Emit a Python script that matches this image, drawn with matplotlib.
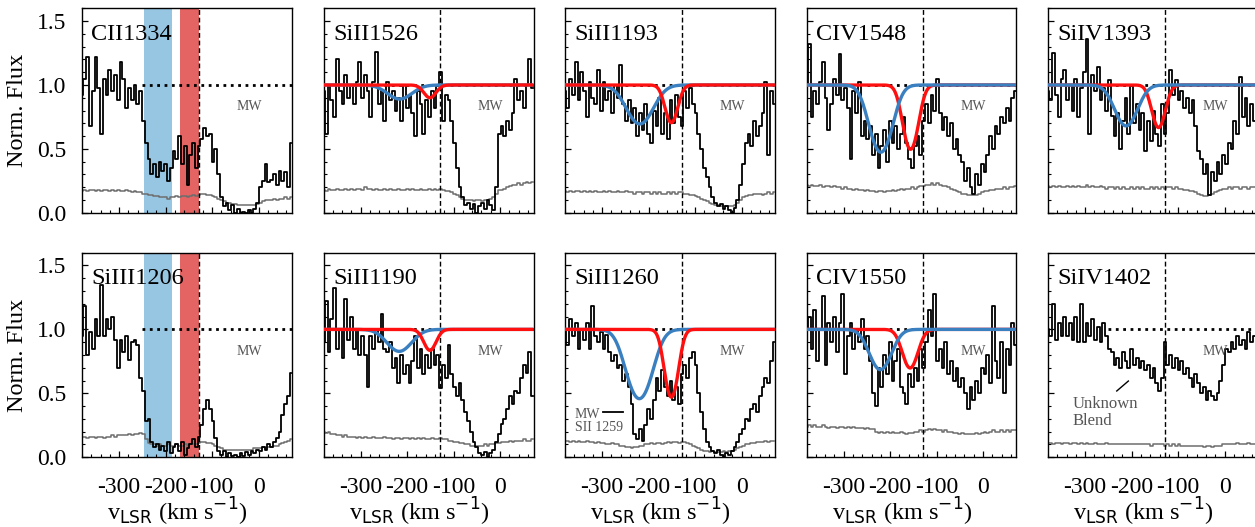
import numpy as np
import matplotlib
matplotlib.use("Agg")
import matplotlib.pyplot as plt
from matplotlib.ticker import MultipleLocator

plt.rcParams['font.family'] = ['Liberation Serif', 'DejaVu Serif']
plt.rcParams['mathtext.fontset'] = 'dejavusans'
plt.rcParams['axes.unicode_minus'] = False

# ---------------- data ----------------
velocity = np.arange(-380, 71, 6)   # km/s, bin centres (76 bins)

flux_CII1334 = [0.92, 1.05, 1.22, 0.68, 0.95, 1.22, 0.98, 0.62, 1.05, 0.92,
                1.12, 0.95, 1.08, 0.88, 1.18, 1.05, 0.82, 0.98, 0.88, 1.00,
                0.85, 0.95, 0.72, 0.55, 0.42, 0.30, 0.38, 0.28, 0.40, 0.33,
                0.38, 0.25, 0.35, 0.48, 0.42, 0.60, 0.38, 0.52, 0.22, 0.45,
                0.55, 0.35, 0.52, 0.58, 0.66, 0.60, 0.62, 0.40, 0.50, 0.30,
                0.12, 0.05, 0.08, 0.02, 0.06, 0.00, 0.03, 0.00, 0.01, 0.00,
                0.02, 0.00, 0.03, 0.08, 0.20, 0.25, 0.38, 0.24, 0.26, 0.30,
                0.22, 0.33, 0.25, 0.32, 0.20, 0.55]
err_CII1334 = [0.17, 0.18, 0.17, 0.18, 0.18, 0.17, 0.18, 0.17, 0.18, 0.18,
               0.17, 0.18, 0.17, 0.18, 0.17, 0.17, 0.18, 0.17, 0.16, 0.17,
               0.16, 0.16, 0.15, 0.15, 0.14, 0.14, 0.13, 0.13, 0.12, 0.12,
               0.12, 0.11, 0.12, 0.12, 0.13, 0.12, 0.13, 0.13, 0.12, 0.13,
               0.14, 0.13, 0.14, 0.15, 0.15, 0.14, 0.14, 0.13, 0.12, 0.11,
               0.10, 0.09, 0.08, 0.08, 0.07, 0.07, 0.06, 0.06, 0.06, 0.06,
               0.06, 0.06, 0.06, 0.07, 0.08, 0.09, 0.10, 0.10, 0.10, 0.11,
               0.10, 0.11, 0.11, 0.12, 0.11, 0.12]

flux_SiII1526 = [0.95, 0.62, 1.00, 0.88, 0.75, 1.20, 0.95, 0.85, 1.08, 0.90,
                 1.00, 0.85, 1.02, 1.18, 0.90, 1.08, 0.95, 0.75, 1.02, 1.26,
                 0.85, 0.95, 0.72, 1.02, 0.88, 0.95, 0.80, 0.90, 0.72, 1.00,
                 0.82, 0.92, 0.78, 0.60, 0.95, 0.85, 0.62, 0.88, 0.75, 0.95,
                 0.82, 1.00, 1.10, 0.72, 0.92, 0.88, 0.72, 0.55, 0.35, 0.20,
                 0.12, 0.06, 0.08, 0.03, 0.07, 0.00, 0.05, 0.08, 0.03, 0.10,
                 0.06, 0.02, 0.20, 0.62, 0.68, 0.60, 0.72, 0.65, 0.78, 1.05,
                 0.88, 0.95, 0.82, 1.00, 1.20, 0.98]
err_SiII1526 = [0.18, 0.17, 0.19, 0.18, 0.18, 0.19, 0.18, 0.18, 0.19, 0.18,
                0.19, 0.18, 0.19, 0.19, 0.18, 0.20, 0.19, 0.19, 0.18, 0.19,
                0.18, 0.18, 0.19, 0.18, 0.19, 0.18, 0.18, 0.19, 0.18, 0.18,
                0.19, 0.18, 0.19, 0.18, 0.18, 0.19, 0.18, 0.18, 0.19, 0.18,
                0.19, 0.18, 0.19, 0.18, 0.17, 0.17, 0.16, 0.15, 0.14, 0.12,
                0.11, 0.10, 0.10, 0.10, 0.09, 0.10, 0.10, 0.09, 0.10, 0.10,
                0.11, 0.12, 0.15, 0.18, 0.18, 0.19, 0.20, 0.21, 0.22, 0.22,
                0.23, 0.22, 0.23, 0.24, 0.23, 0.24]

flux_SiII1193 = [0.95, 0.82, 1.05, 0.92, 1.18, 0.88, 1.10, 0.95, 0.75, 1.02,
                 0.90, 0.85, 1.12, 0.80, 1.02, 0.88, 0.95, 0.78, 1.00, 0.90,
                 1.16, 0.85, 0.72, 0.88, 0.70, 0.82, 0.60, 0.78, 0.65, 0.85,
                 0.62, 0.55, 0.80, 0.68, 0.90, 0.62, 0.78, 0.58, 0.88, 0.70,
                 0.92, 0.75, 0.68, 0.95, 0.82, 0.98, 0.85, 0.78, 0.62, 0.50,
                 0.35, 0.28, 0.20, 0.12, 0.08, 0.05, 0.07, 0.03, 0.05, 0.02,
                 0.00, 0.04, 0.10, 0.22, 0.38, 0.55, 0.62, 0.52, 0.72, 0.60,
                 0.68, 0.78, 1.02, 0.45, 0.95, 0.85]
err_SiII1193 = [0.17, 0.16, 0.17, 0.16, 0.17, 0.17, 0.16, 0.17, 0.16, 0.17,
                0.16, 0.17, 0.16, 0.16, 0.17, 0.16, 0.17, 0.16, 0.16, 0.17,
                0.16, 0.16, 0.17, 0.16, 0.16, 0.15, 0.16, 0.16, 0.15, 0.16,
                0.16, 0.15, 0.16, 0.15, 0.16, 0.15, 0.15, 0.16, 0.15, 0.16,
                0.15, 0.16, 0.16, 0.15, 0.15, 0.14, 0.14, 0.13, 0.12, 0.11,
                0.10, 0.09, 0.08, 0.07, 0.06, 0.06, 0.05, 0.05, 0.05, 0.05,
                0.05, 0.06, 0.08, 0.10, 0.12, 0.13, 0.14, 0.14, 0.15, 0.15,
                0.15, 0.14, 0.15, 0.16, 0.15, 0.16]

flux_CIV1548 = [1.00, 1.32, 0.75, 0.95, 0.85, 1.02, 1.18, 0.90, 0.65, 0.85,
                1.05, 0.92, 1.24, 0.88, 0.98, 0.82, 0.42, 0.95, 0.78, 1.02,
                0.60, 0.72, 0.58, 0.68, 0.45, 0.62, 0.35, 0.52, 0.65, 0.40,
                0.72, 0.55, 0.68, 0.50, 0.62, 0.75, 0.55, 0.42, 0.35, 0.52,
                0.60, 0.45, 0.72, 0.85, 0.70, 0.92, 0.80, 1.05, 0.78, 0.65,
                0.75, 0.60, 0.70, 0.50, 0.58, 0.45, 0.40, 0.25, 0.35, 0.20,
                0.15, 0.30, 0.22, 0.38, 0.32, 0.45, 0.60, 0.50, 0.68, 0.62,
                0.75, 0.70, 0.82, 0.72, 0.90, 0.95]
err_CIV1548 = [0.22, 0.21, 0.22, 0.21, 0.21, 0.22, 0.20, 0.21, 0.21, 0.20,
               0.21, 0.20, 0.20, 0.19, 0.20, 0.19, 0.19, 0.18, 0.19, 0.18,
               0.18, 0.17, 0.18, 0.17, 0.17, 0.16, 0.17, 0.17, 0.16, 0.17,
               0.17, 0.18, 0.17, 0.18, 0.19, 0.18, 0.19, 0.19, 0.20, 0.19,
               0.20, 0.21, 0.21, 0.22, 0.22, 0.23, 0.22, 0.23, 0.22, 0.21,
               0.21, 0.20, 0.19, 0.18, 0.17, 0.16, 0.15, 0.15, 0.14, 0.14,
               0.14, 0.14, 0.15, 0.16, 0.17, 0.17, 0.18, 0.18, 0.19, 0.19,
               0.19, 0.20, 0.19, 0.20, 0.20, 0.21]

flux_SiIV1393 = [0.95, 0.88, 1.25, 0.92, 0.75, 1.05, 1.12, 0.88, 1.00, 0.80,
                 1.05, 0.75, 0.98, 1.10, 1.36, 0.62, 1.08, 0.95, 1.14, 0.88,
                 0.98, 0.80, 1.04, 0.76, 0.60, 0.78, 0.50, 0.72, 0.90, 0.62,
                 1.00, 0.70, 0.85, 0.65, 0.78, 0.48, 0.72, 0.56, 0.80, 0.62,
                 0.52, 0.85, 0.62, 0.78, 1.12, 0.92, 1.04, 0.88, 0.95, 0.82,
                 0.90, 0.78, 0.88, 0.68, 0.48, 0.42, 0.30, 0.38, 0.14, 0.32,
                 0.25, 0.40, 0.30, 0.45, 0.38, 0.55, 0.50, 0.72, 0.62, 1.06,
                 0.75, 0.90, 0.68, 0.85, 0.72, 0.88]
err_SiIV1393 = [0.21, 0.20, 0.21, 0.20, 0.21, 0.20, 0.20, 0.21, 0.20, 0.21,
                0.20, 0.21, 0.20, 0.20, 0.22, 0.20, 0.21, 0.20, 0.20, 0.21,
                0.20, 0.19, 0.20, 0.20, 0.19, 0.20, 0.19, 0.20, 0.19, 0.19,
                0.20, 0.19, 0.20, 0.19, 0.20, 0.19, 0.19, 0.20, 0.19, 0.20,
                0.19, 0.20, 0.19, 0.20, 0.20, 0.19, 0.20, 0.19, 0.19, 0.18,
                0.18, 0.17, 0.17, 0.16, 0.15, 0.14, 0.13, 0.13, 0.14, 0.15,
                0.16, 0.17, 0.18, 0.19, 0.19, 0.20, 0.19, 0.20, 0.20, 0.19,
                0.20, 0.20, 0.19, 0.20, 0.20, 0.20]

flux_SiIII1206 = [0.95, 1.18, 0.80, 0.98, 0.85, 1.08, 0.95, 1.35, 0.95, 1.08,
                  1.00, 1.10, 0.92, 0.70, 0.92, 0.82, 0.95, 0.76, 0.90, 0.92,
                  0.88, 0.62, 0.52, 0.28, 0.30, 0.12, 0.08, 0.10, 0.06, 0.09,
                  0.05, 0.12, 0.03, 0.08, 0.10, 0.05, 0.12, 0.02, 0.07, 0.10,
                  0.14, 0.08, 0.16, 0.25, 0.38, 0.45, 0.38, 0.28, 0.15, 0.05,
                  0.02, 0.05, 0.00, 0.03, 0.01, 0.02, 0.00, 0.03, 0.01, 0.04,
                  0.02, 0.05, 0.03, 0.06, 0.05, 0.08, 0.06, 0.10, 0.08, 0.12,
                  0.15, 0.20, 0.33, 0.42, 0.48, 0.66]
err_SiIII1206 = [0.16, 0.16, 0.15, 0.16, 0.16, 0.15, 0.16, 0.16, 0.15, 0.16,
                 0.16, 0.17, 0.16, 0.17, 0.17, 0.17, 0.17, 0.18, 0.17, 0.18,
                 0.18, 0.19, 0.18, 0.14, 0.11, 0.10, 0.10, 0.09, 0.10, 0.09,
                 0.09, 0.10, 0.09, 0.09, 0.10, 0.09, 0.09, 0.10, 0.09, 0.10,
                 0.10, 0.10, 0.11, 0.12, 0.12, 0.11, 0.11, 0.10, 0.09, 0.08,
                 0.07, 0.06, 0.06, 0.06, 0.06, 0.06, 0.06, 0.06, 0.06, 0.06,
                 0.06, 0.06, 0.07, 0.07, 0.07, 0.08, 0.07, 0.08, 0.08, 0.09,
                 0.09, 0.10, 0.11, 0.12, 0.13, 0.14]

flux_SiII1190 = [0.90, 1.22, 0.82, 1.08, 1.32, 0.85, 1.00, 0.78, 1.24, 0.92,
                 1.10, 0.85, 1.00, 0.80, 0.95, 0.80, 0.55, 0.95, 0.85, 1.00,
                 0.90, 1.12, 0.85, 0.82, 0.90, 0.70, 0.78, 0.58, 0.80, 0.65,
                 0.72, 0.58, 0.75, 0.95, 0.70, 0.85, 0.65, 0.80, 0.70, 0.85,
                 0.72, 0.80, 0.54, 0.72, 0.62, 0.88, 0.65, 0.55, 0.48, 0.58,
                 0.45, 0.35, 0.28, 0.20, 0.12, 0.08, 0.03, 0.02, 0.04, 0.00,
                 0.03, 0.06, 0.12, 0.18, 0.26, 0.30, 0.38, 0.48, 0.42, 0.52,
                 0.50, 0.62, 0.72, 0.66, 0.82, 0.48]
err_SiII1190 = [0.20, 0.19, 0.20, 0.18, 0.18, 0.17, 0.17, 0.16, 0.17, 0.16,
                0.16, 0.16, 0.15, 0.16, 0.15, 0.16, 0.15, 0.15, 0.16, 0.15,
                0.15, 0.15, 0.16, 0.15, 0.15, 0.14, 0.15, 0.15, 0.14, 0.15,
                0.15, 0.14, 0.15, 0.14, 0.15, 0.14, 0.15, 0.14, 0.14, 0.15,
                0.14, 0.14, 0.15, 0.14, 0.14, 0.13, 0.13, 0.12, 0.12, 0.11,
                0.11, 0.10, 0.10, 0.09, 0.09, 0.09, 0.09, 0.09, 0.10, 0.09,
                0.10, 0.10, 0.11, 0.11, 0.12, 0.12, 0.12, 0.13, 0.12, 0.13,
                0.13, 0.13, 0.14, 0.13, 0.13, 0.14]

flux_SiII1260 = [1.00, 0.88, 1.08, 0.95, 1.05, 0.85, 1.00, 0.92, 1.05, 0.85,
                 1.18, 0.95, 0.90, 0.98, 0.85, 0.96, 0.82, 0.75, 0.80, 0.70,
                 0.72, 0.60, 0.65, 0.55, 0.42, 0.18, 0.14, 0.22, 0.13, 0.25,
                 0.38, 0.30, 0.45, 0.62, 0.52, 0.68, 0.55, 0.48, 0.60, 0.45,
                 0.55, 0.42, 0.65, 0.72, 0.62, 0.78, 0.82, 0.72, 0.50, 0.35,
                 0.22, 0.12, 0.08, 0.05, 0.03, 0.06, 0.02, 0.00, 0.03, 0.02,
                 0.05, 0.08, 0.12, 0.18, 0.22, 0.30, 0.28, 0.38, 0.42, 0.35,
                 0.48, 0.55, 0.62, 0.58, 0.75, 0.90]
err_SiII1260 = [0.13, 0.13, 0.12, 0.13, 0.12, 0.13, 0.12, 0.12, 0.13, 0.12,
                0.12, 0.11, 0.12, 0.11, 0.11, 0.10, 0.10, 0.11, 0.10, 0.10,
                0.09, 0.09, 0.08, 0.08, 0.07, 0.08, 0.08, 0.09, 0.09, 0.10,
                0.10, 0.11, 0.10, 0.11, 0.11, 0.10, 0.11, 0.12, 0.11, 0.12,
                0.12, 0.11, 0.12, 0.12, 0.11, 0.10, 0.09, 0.08, 0.07, 0.06,
                0.05, 0.05, 0.04, 0.05, 0.04, 0.04, 0.04, 0.05, 0.04, 0.05,
                0.05, 0.06, 0.07, 0.08, 0.09, 0.10, 0.10, 0.11, 0.11, 0.12,
                0.12, 0.12, 0.13, 0.12, 0.13, 0.13]

flux_CIV1550 = [1.00, 1.10, 0.85, 1.15, 0.75, 1.00, 1.26, 0.72, 1.05, 0.90,
                1.10, 0.82, 1.05, 1.28, 0.65, 0.95, 1.05, 0.85, 1.00, 0.90,
                1.08, 0.85, 0.95, 0.75, 0.50, 0.40, 0.70, 0.55, 0.80, 0.65,
                0.90, 0.60, 0.75, 0.85, 0.55, 0.50, 0.42, 0.65, 0.55, 0.70,
                0.60, 0.85, 0.70, 0.90, 1.15, 0.95, 1.28, 0.75, 0.85, 0.70,
                0.90, 0.65, 0.75, 0.60, 0.70, 0.55, 0.62, 0.50, 0.38, 0.55,
                0.45, 0.60, 0.50, 0.70, 0.65, 0.80, 0.58, 1.18, 0.75, 0.62,
                0.90, 0.50, 0.85, 0.72, 1.05, 0.88]
err_CIV1550 = [0.24, 0.25, 0.24, 0.25, 0.24, 0.24, 0.25, 0.24, 0.23, 0.24,
               0.24, 0.23, 0.24, 0.24, 0.23, 0.24, 0.23, 0.24, 0.23, 0.23,
               0.23, 0.22, 0.23, 0.22, 0.22, 0.20, 0.19, 0.20, 0.19, 0.20,
               0.19, 0.20, 0.19, 0.19, 0.20, 0.19, 0.18, 0.19, 0.19, 0.20,
               0.20, 0.21, 0.20, 0.21, 0.22, 0.21, 0.22, 0.21, 0.21, 0.20,
               0.21, 0.20, 0.20, 0.19, 0.19, 0.18, 0.19, 0.18, 0.18, 0.18,
               0.18, 0.19, 0.18, 0.19, 0.20, 0.19, 0.20, 0.21, 0.20, 0.20,
               0.21, 0.20, 0.21, 0.20, 0.21, 0.21]

flux_SiIV1402 = [1.00, 0.95, 1.20, 0.92, 1.05, 0.95, 1.10, 0.95, 1.05, 0.92,
                 1.10, 0.90, 1.20, 0.90, 1.05, 0.95, 1.08, 0.92, 1.02, 0.90,
                 1.05, 0.95, 0.85, 0.82, 0.72, 0.78, 0.70, 0.82, 0.75, 0.70,
                 0.85, 0.72, 0.78, 0.70, 0.75, 0.68, 0.72, 0.62, 0.70, 0.58,
                 0.52, 0.62, 0.90, 0.72, 0.80, 0.70, 0.78, 0.68, 0.75, 0.65,
                 0.70, 0.62, 0.55, 0.65, 0.58, 0.50, 0.55, 0.45, 0.52, 0.48,
                 0.45, 0.50, 0.60, 0.72, 0.85, 0.82, 0.90, 0.85, 0.95, 0.88,
                 0.92, 0.85, 0.98, 0.90, 0.95, 1.00]
err_SiIV1402 = [0.11, 0.11, 0.10, 0.11, 0.11, 0.10, 0.11, 0.11, 0.10, 0.11,
                0.11, 0.10, 0.11, 0.10, 0.11, 0.10, 0.10, 0.11, 0.10, 0.10,
                0.10, 0.11, 0.10, 0.10, 0.10, 0.10, 0.10, 0.10, 0.10, 0.10,
                0.10, 0.10, 0.10, 0.10, 0.10, 0.10, 0.10, 0.09, 0.10, 0.10,
                0.10, 0.10, 0.09, 0.10, 0.09, 0.10, 0.09, 0.10, 0.09, 0.09,
                0.09, 0.09, 0.09, 0.09, 0.09, 0.09, 0.08, 0.09, 0.09, 0.08,
                0.09, 0.09, 0.09, 0.10, 0.10, 0.10, 0.10, 0.10, 0.11, 0.10,
                0.10, 0.10, 0.11, 0.10, 0.10, 0.10]

# fitted components: (centre km/s, minimum flux, b km/s)
fit_SiII1526 = {'blue': (-216, 0.89, 36), 'red': (-151, 0.90, 18)}
fit_SiII1193 = {'blue': (-219, 0.695, 38), 'red': (-151, 0.705, 18)}
fit_CIV1548 = {'blue': (-220, 0.474, 31), 'red': (-156, 0.497, 21)}
fit_SiIV1393 = {'blue': (-212, 0.68, 32), 'red': (-142, 0.667, 19)}
fit_SiII1190 = {'blue': (-217, 0.828, 36), 'red': (-151, 0.836, 18)}
fit_SiII1260 = {'blue': (-220, 0.458, 35), 'red': (-151, 0.47, 18.5)}
fit_CIV1550 = {'blue': (-221, 0.685, 31), 'red': (-157, 0.698, 22)}

blue_band = (-247, -187)
red_band = (-169, -129)
v_sys = -129

# ---------------- figure ----------------
W, H = 1255, 527
fig = plt.figure(figsize=(W / 100, H / 100), dpi=100)

lefts = [82, 323.5, 565, 806.5, 1048]
row_top = [8.3, 252.7]
pw, ph = 210, 204.5

panels = [
    (0, 0, 'CII1334', flux_CII1334, err_CII1334, None, None),
    (0, 1, 'SiII1526', flux_SiII1526, err_SiII1526, fit_SiII1526, 'red'),
    (0, 2, 'SiII1193', flux_SiII1193, err_SiII1193, fit_SiII1193, 'red'),
    (0, 3, 'CIV1548', flux_CIV1548, err_CIV1548, fit_CIV1548, 'blue'),
    (0, 4, 'SiIV1393', flux_SiIV1393, err_SiIV1393, fit_SiIV1393, 'blue'),
    (1, 0, 'SiIII1206', flux_SiIII1206, err_SiIII1206, None, None),
    (1, 1, 'SiII1190', flux_SiII1190, err_SiII1190, fit_SiII1190, 'red'),
    (1, 2, 'SiII1260', flux_SiII1260, err_SiII1260, fit_SiII1260, 'red'),
    (1, 3, 'CIV1550', flux_CIV1550, err_CIV1550, fit_CIV1550, 'blue'),
    (1, 4, 'SiIV1402', flux_SiIV1402, err_SiIV1402, None, None),
]

fit_colors = {'blue': '#3a80c0', 'red': '#ff1010'}
vfine = np.linspace(-380, 72, 800)
xlim = (-380, 72)

for row, col, name, flux, err, fit, top in panels:
    x0 = lefts[col] / W
    y0 = 1 - (row_top[row] + ph) / H
    ax = fig.add_axes([x0, y0, pw / W, ph / H])

    if col == 0:
        ax.axvspan(*blue_band, color='#97c6e3', lw=0, zorder=0)
        ax.axvspan(*red_band, color='#e36463', lw=0, zorder=0)

    ax.step(velocity, err, where='mid', color='#6e6e6e', lw=1.1, zorder=2)
    ax.step(velocity, flux, where='mid', color='black', lw=1.3, zorder=3)
    ax.plot([-250, xlim[1]], [1, 1], color='black', lw=2.0, ls=':', zorder=2.5)
    ax.axvline(v_sys, color='black', lw=1.0, ls=(0, (3.5, 2)), zorder=2.6)

    if fit is not None:
        for comp in ('blue', 'red'):
            vc, fmin, b = fit[comp]
            tau0 = -np.log(fmin)
            model = np.exp(-tau0 * np.exp(-((vfine - vc) / b) ** 2))
            z = 6 if comp == top else 5
            ax.plot(vfine, model, color=fit_colors[comp], lw=2.4, zorder=z,
                    solid_capstyle='butt')

    ax.text(-20, 0.83, 'MW', ha='center', va='center', fontsize=10,
            color='#555555', zorder=4)
    ax.text(0.045, 0.845, name, transform=ax.transAxes, fontsize=17.5,
            va='baseline', ha='left', zorder=7)

    if name == 'SiII1260':
        ax.text(-359, 0.385, 'MW\nSII 1259', ha='left', va='top', fontsize=10,
                color='#555555', linespacing=1.05, zorder=4)
        ax.plot([-298, -255], [0.35, 0.35], color='black', lw=1.3, zorder=4)
    if name == 'SiIV1402':
        ax.text(-327, 0.475, 'Unknown\nBlend', ha='left', va='top', fontsize=12,
                color='#555555', linespacing=1.05, zorder=4)
        ax.plot([-232, -207], [0.518, 0.596], color='black', lw=1.0, zorder=4)

    ax.set_xlim(*xlim)
    ax.set_ylim(0, 1.6)
    ax.xaxis.set_major_locator(MultipleLocator(100))
    ax.xaxis.set_minor_locator(MultipleLocator(20))
    ax.yaxis.set_major_locator(MultipleLocator(0.5))
    ax.yaxis.set_minor_locator(MultipleLocator(0.1))
    ax.tick_params(which='both', direction='in', top=False, right=False,
                   labelsize=17)
    ax.tick_params(which='major', length=4, width=0.9)
    ax.tick_params(which='minor', length=2.3, width=0.8)
    ax.tick_params(axis='x', pad=14)
    ax.tick_params(axis='y', pad=11)
    for sp in ax.spines.values():
        sp.set_linewidth(1.0)

    if col == 0:
        ax.set_ylabel('Norm. Flux', fontsize=17.5)
        ax.yaxis.set_label_coords(-0.257, 0.5)
    else:
        ax.tick_params(labelleft=False)
    if row == 1:
        ax.set_xlabel(r'v$_{\rm LSR}$ (km s$^{-1}$)', fontsize=17.5)
        ax.xaxis.set_label_coords(0.455, -0.19)
    else:
        ax.tick_params(labelbottom=False)

fig.savefig('out.png', dpi=100)
